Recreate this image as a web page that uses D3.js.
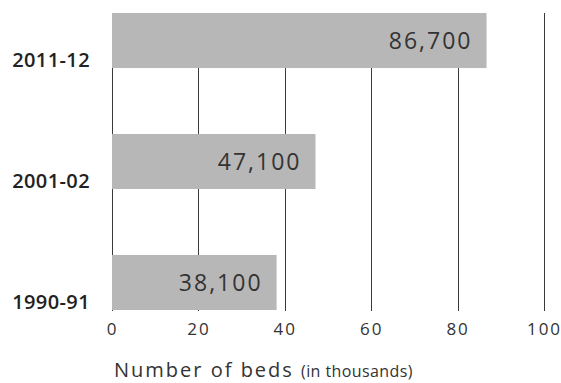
<!DOCTYPE html>
<html>
<head>
<meta charset="utf-8">
<script src="https://cdn.jsdelivr.net/npm/d3@7"></script>
<style>
  html, body { margin: 0; padding: 0; background: #fff; }
  svg { display: block; }
</style>
</head>
<body>
<script>
const categories = ["2011-12", "2001-02", "1990-91"];
const values = [86.7, 47.1, 38.1];
const valueLabels = ["86,700", "47,100", "38,100"];
const tickValues = [0, 20, 40, 60, 80, 100];

const W = 561, H = 383;
const svg = d3.select("body").append("svg").attr("width", W).attr("height", H);

const x = d3.scaleLinear().domain([0, 100]).range([112, 544]);
const y = d3.scaleBand().domain(categories).range([13, 310]).paddingInner(0.545).paddingOuter(0);

// gridlines
svg.append("g").selectAll("line").data(tickValues).join("line")
  .attr("x1", d => Math.round(x(d)) + 0.5).attr("x2", d => Math.round(x(d)) + 0.5)
  .attr("y1", 13).attr("y2", 311)
  .attr("stroke", "#3a3a3a").attr("stroke-width", 1);

// bars
svg.append("g").selectAll("rect").data(categories).join("rect")
  .attr("x", x(0)).attr("y", d => y(d))
  .attr("width", (d, i) => x(values[i]) - x(0))
  .attr("height", y.bandwidth())
  .attr("fill", "#b8b7b7");

// value labels
svg.append("g").selectAll("text").data(categories).join("text")
  .attr("x", (d, i) => x(values[i]) - 14)
  .attr("y", d => y(d) + y.bandwidth() / 2)
  .attr("dy", "0.36em")
  .attr("text-anchor", "end")
  .attr("font-family", "'Open Sans', sans-serif")
  .attr("font-size", 23)
  .attr("letter-spacing", 2)
  .attr("fill", "#333")
  .text((d, i) => valueLabels[i]);

// category labels
svg.append("g").selectAll("text").data(categories).join("text")
  .attr("x", 90).attr("y", d => y(d) + y.bandwidth() - 1)
  .attr("text-anchor", "end")
  .attr("font-family", "'Open Sans', sans-serif")
  .attr("font-weight", 600)
  .attr("font-size", 20)
  .attr("letter-spacing", 0.4)
  .attr("fill", "#222")
  .text(d => d);

// x axis tick labels
const axis = d3.axisBottom(x).tickValues(tickValues).tickSize(0).tickPadding(0);
const gx = svg.append("g").attr("transform", "translate(0,335)").call(axis);
gx.select(".domain").remove();
gx.selectAll("text")
  .attr("y", 0).attr("dy", 0)
  .attr("font-family", "'Open Sans', sans-serif")
  .attr("font-size", 17)
  .attr("letter-spacing", 2)
  .attr("fill", "#333");

// axis title
const title = svg.append("text")
  .attr("x", 114).attr("y", 377)
  .attr("text-anchor", "start")
  .attr("font-family", "'Open Sans', sans-serif")
  .attr("fill", "#333");
title.append("tspan").attr("font-size", 20).attr("letter-spacing", 2).text("Number of beds ");
title.append("tspan").attr("font-size", 16).attr("letter-spacing", 0.4).text("(in thousands)");
</script>
</body>
</html>
